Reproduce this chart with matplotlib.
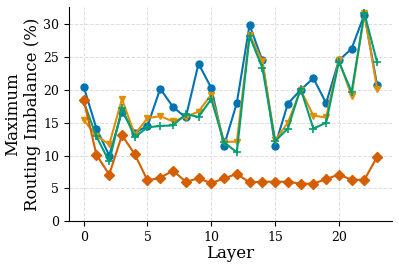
import numpy as np
import matplotlib.pyplot as plt

layers = np.arange(24)

# routing imbalance per layer (%), four configurations
imb_blue = [20.5, 14.1, 10.0, 16.7, 13.5, 14.5, 20.2, 17.4, 15.8, 24.0, 20.3, 11.5,
            18.0, 29.9, 24.5, 11.5, 17.9, 20.0, 21.8, 18.0, 24.5, 26.3, 31.5, 20.7]
imb_orange = [15.4, 13.0, 11.7, 18.6, 13.2, 15.7, 16.0, 15.2, 15.9, 16.7, 19.3, 12.1,
              12.1, 28.4, 24.4, 12.3, 15.0, 20.0, 16.1, 15.8, 24.5, 19.1, 31.7, 20.1]
imb_green = [18.2, 12.9, 9.1, 17.2, 12.8, 14.3, 14.5, 14.6, 16.3, 15.9, 18.6, 12.0,
             10.5, 28.2, 23.4, 12.2, 14.1, 20.2, 14.1, 15.0, 24.3, 19.7, 31.7, 24.2]
imb_red = [18.5, 10.1, 7.1, 13.1, 10.2, 6.2, 6.6, 7.7, 6.0, 6.5, 5.8, 6.5,
           7.2, 5.9, 6.0, 6.0, 6.0, 5.7, 5.7, 6.4, 7.1, 6.3, 6.3, 9.8]

plt.rcParams['font.family'] = 'DejaVu Serif'

fig, ax = plt.subplots(figsize=(3.99, 2.67), dpi=100)
ax.plot(layers, imb_blue, '-o', color='#0173B2', lw=1.5, ms=5)
ax.plot(layers, imb_orange, '-v', color='#DE8F05', lw=1.5, ms=5)
ax.plot(layers, imb_green, '-+', color='#029E73', lw=1.5, ms=6, mew=1.2)
ax.plot(layers, imb_red, '-D', color='#D55E00', lw=1.5, ms=5)

ax.set_ylim(0, 32.7)
ax.set_xticks([0, 5, 10, 15, 20])
ax.set_yticks([0, 5, 10, 15, 20, 25, 30])
ax.tick_params(labelsize=9)
ax.grid(True, ls='--', color='#dddddd', lw=0.7)
ax.set_axisbelow(True)
for s in ['top', 'right']:
    ax.spines[s].set_visible(False)
ax.set_xlabel('Layer', fontsize=12, labelpad=1)
ax.set_ylabel('Maximum\nRouting Imbalance (%)', fontsize=12, labelpad=2)

fig.subplots_adjust(left=0.173, right=0.982, top=0.975, bottom=0.172)
fig.savefig('out.png', dpi=100)
